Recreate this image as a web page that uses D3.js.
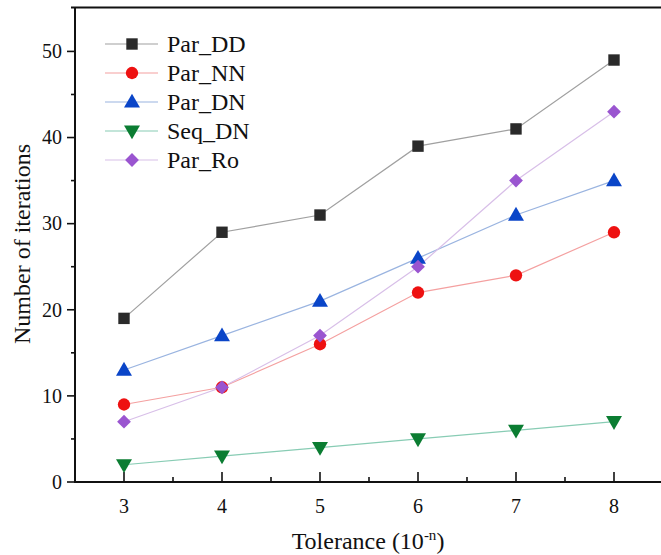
<!DOCTYPE html>
<html><head><meta charset="utf-8">
<script src="https://cdn.jsdelivr.net/npm/d3@7"></script>
</head><body style="margin:0"><svg id="c" width="661" height="555" style="display:block;font-family:'Times New Roman','Liberation Serif',serif"></svg>
<script>
const tolerances = [3, 4, 5, 6, 7, 8];
const parDD = [19, 29, 31, 39, 41, 49];
const parNN = [9, 11, 16, 22, 24, 29];
const parDN = [13, 17, 21, 26, 31, 35];
const seqDN = [2, 3, 4, 5, 6, 7];
const parRo = [7, 11, 17, 25, 35, 43];
const xTicks = [3, 4, 5, 6, 7, 8];
const yTicks = [0, 10, 20, 30, 40, 50];

const FONT = "Times New Roman";
const series = [
  {name: "Par_DD", values: parDD, line: "#a0a0a0", fill: "#2a2a2a", shape: d3.symbolSquare, size: 130, rot: 0, dy: 0},
  {name: "Par_NN", values: parNN, line: "#f4a0a0", fill: "#ee1111", shape: d3.symbolCircle, size: 120, rot: 0, dy: 0},
  {name: "Par_DN", values: parDN, line: "#9ab4e0", fill: "#0a45c8", shape: d3.symbolTriangle, size: 110, rot: 0, dy: 1},
  {name: "Seq_DN", values: seqDN, line: "#88ccb4", fill: "#0b7d32", shape: d3.symbolTriangle, size: 110, rot: 180, dy: -1},
  {name: "Par_Ro", values: parRo, line: "#d8bfe8", fill: "#9a55d0", shape: d3.symbolSquare, size: 95, rot: 45, dy: 0}
];

const svg = d3.select("#c");
const x = d3.scaleLinear().domain([2.5, 8.5]).range([75, 663]);
const y = d3.scaleLinear().domain([0, 55.1]).range([482, 7.5]);

function addText(parent) {
  return parent.append("text").style("font-family", `"${FONT}"`).attr("fill", "#111");
}

svg.append("line").attr("x1", 71).attr("x2", 661).attr("y1", 7.5).attr("y2", 7.5).attr("stroke", "#111").attr("stroke-width", 2);

// y axis ticks
const yMinor = d3.range(5, 55, 10);
const gy = svg.append("g");
gy.selectAll(".maj").data(yTicks).enter().append("line").attr("x1", 67).attr("x2", 75)
  .attr("y1", d => y(d)).attr("y2", d => y(d)).attr("stroke", "#111").attr("stroke-width", 1.6);
gy.selectAll(".mn").data(yMinor).enter().append("line").attr("x1", 71).attr("x2", 75)
  .attr("y1", d => y(d)).attr("y2", d => y(d)).attr("stroke", "#111").attr("stroke-width", 1.6);
yTicks.forEach(t => {
  addText(gy).attr("x", 62).attr("y", y(t)).attr("dy", "0.34em").attr("text-anchor", "end").style("font-size", "20px").text(t);
});
svg.append("line").attr("x1", 75).attr("x2", 75).attr("y1", 7).attr("y2", 483).attr("stroke", "#111").attr("stroke-width", 2);

// x axis ticks
const xMinor = d3.range(3.5, 8.5, 1);
const gx = svg.append("g");
gx.selectAll(".maj").data(xTicks).enter().append("line").attr("y1", 472).attr("y2", 482)
  .attr("x1", d => x(d)).attr("x2", d => x(d)).attr("stroke", "#111").attr("stroke-width", 1.6);
gx.selectAll(".mn").data(xMinor).enter().append("line").attr("y1", 477).attr("y2", 482)
  .attr("x1", d => x(d)).attr("x2", d => x(d)).attr("stroke", "#111").attr("stroke-width", 1.6);
xTicks.forEach(t => {
  addText(gx).attr("x", x(t)).attr("y", 513).attr("text-anchor", "middle").style("font-size", "20px").text(t);
});
svg.append("line").attr("x1", 74).attr("x2", 661).attr("y1", 482).attr("y2", 482).attr("stroke", "#111").attr("stroke-width", 2);

const lineGen = d3.line().x((d, i) => x(tolerances[i])).y(d => y(d));
series.forEach(s => {
  svg.append("path").datum(s.values).attr("d", lineGen).attr("fill", "none").attr("stroke", s.line).attr("stroke-width", 1.2);
});
series.forEach(s => {
  svg.selectAll(null).data(s.values).enter().append("path")
    .attr("d", d3.symbol().type(s.shape).size(s.size))
    .attr("transform", (d, i) => `translate(${x(tolerances[i])},${y(d) + s.dy}) rotate(${s.rot})`)
    .attr("fill", s.fill);
});

const leg = svg.append("g");
series.forEach((s, i) => {
  const ly = 44 + i * 29;
  leg.append("line").attr("x1", 105).attr("x2", 158).attr("y1", ly).attr("y2", ly).attr("stroke", s.line).attr("stroke-width", 1.2);
  leg.append("path").attr("d", d3.symbol().type(s.shape).size(s.size))
    .attr("transform", `translate(132,${ly + s.dy}) rotate(${s.rot})`).attr("fill", s.fill);
  addText(leg).attr("x", 167).attr("y", ly + 8).style("font-size", "24px").text(s.name);
});

const xt = addText(svg).attr("x", 368).attr("y", 549).attr("text-anchor", "middle").style("font-size", "24px");
xt.append("tspan").text("Tolerance (10");
xt.append("tspan").attr("dy", -9).style("font-size", "15px").text("-n");
xt.append("tspan").attr("dy", 9).text(")");
addText(svg).attr("transform", "translate(30,244) rotate(-90)").attr("text-anchor", "middle").style("font-size", "24px").text("Number of iterations");
</script></body></html>
